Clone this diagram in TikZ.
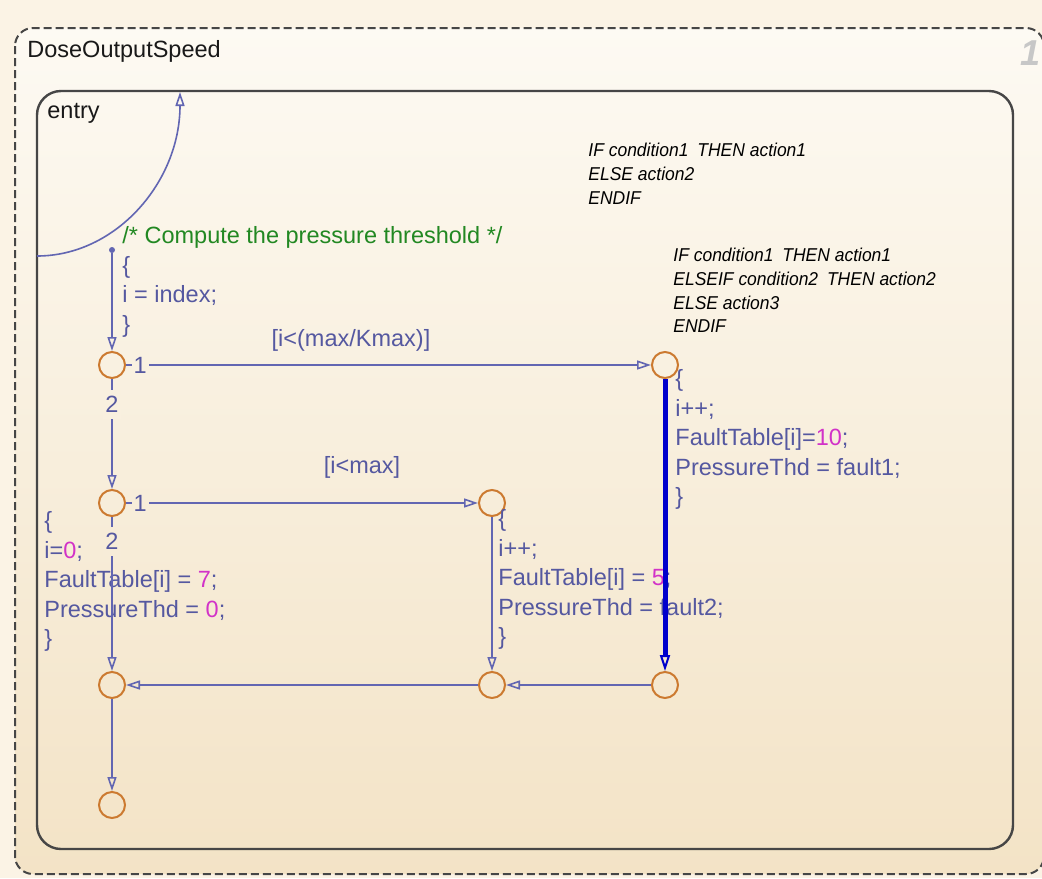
\documentclass[tikz,border=0pt]{standalone}
\usepackage{fontspec}
\setmainfont{Liberation Sans}
\newfontfamily\notefont[FakeStretch=0.94]{Liberation Sans}
\usetikzlibrary{arrows.meta}

\definecolor{sfline}{RGB}{98,102,178}
\definecolor{sftext}{RGB}{85,88,160}
\definecolor{sfjunc}{RGB}{204,122,48}
\definecolor{sfgreen}{RGB}{34,136,34}
\definecolor{sfnum}{RGB}{210,50,200}
\definecolor{sfthick}{RGB}{0,0,204}
\definecolor{sftop}{RGB}{253,250,243}
\definecolor{sfbot}{RGB}{243,227,198}
\definecolor{sfout}{RGB}{251,243,229}
\definecolor{sfframe}{RGB}{70,70,70}
\colorlet{bgA}{sfbot!40!sftop}
\colorlet{bgB}{sfbot!44!sftop}
\colorlet{bgC}{sfbot!56!sftop}
\colorlet{bgD}{sfbot!61!sftop}

\newcommand\codesize{\fontsize{11.75}{14.8}\selectfont}
\newcommand\notesize{\fontsize{9.3}{11.8}\selectfont}

\begin{document}
\begin{tikzpicture}[x=0.5pt,y=-0.5pt,
    junc/.style={circle,draw=sfjunc,line width=1pt,minimum size=13pt,inner sep=0pt},
    trans/.style={draw=sfline,line width=0.8pt,-{Triangle[open,length=7pt,width=4.5pt]}},
    code/.style={text=sftext,font=\codesize,align=left,anchor=north west,inner sep=0pt},
    note/.style={text=black,font=\notefont\itshape\notesize,align=left,anchor=north west,inner sep=0pt},
    num/.style={text=sftext,font=\codesize,inner xsep=1pt,inner ysep=3pt},
    title/.style={text=black!90,font=\codesize,anchor=base west,inner sep=0pt}
  ]
  \fill[sfout] (0,0) rectangle (1042,878);
  \useasboundingbox (0,0) rectangle (1042,878);
  \shade[top color=sftop,bottom color=sfbot,rounded corners=9pt] (15,28) rectangle (1044,874);
  \draw[sfframe,line width=1pt,dash pattern=on 4pt off 2pt,rounded corners=9pt] (15,28) rectangle (1044,874);
  \draw[sfframe,line width=1.2pt,rounded corners=12pt] (37,91) rectangle (1013,849);

  \node[title] (chartname) at (27,57) {DoseOutputSpeed};
  \node[anchor=base east,inner sep=0pt,text=black!22,font=\bfseries\itshape\fontsize{18}{20}\selectfont] (chartnum) at (1041,65) {1};
  \node[title] (entrylbl) at (47,118) {entry};

  \node[note] (note1) at (588,143) {IF condition1\hspace{2pt} THEN action1\\ELSE action2\\ENDIF};
  \node[note] (note2) at (673,248) {IF condition1\hspace{2pt} THEN action1\\ELSEIF condition2\hspace{2pt} THEN action2\\ELSE action3\\ENDIF};

  \node[junc] (J1) at (112,365) {};
  \node[junc] (J2) at (665,365) {};
  \node[junc] (J3) at (112,503) {};
  \node[junc] (J4) at (492,503) {};
  \node[junc] (J5) at (112,685) {};
  \node[junc] (J6) at (492,685) {};
  \node[junc] (J7) at (665,685) {};
  \node[junc] (J8) at (112,805) {};

  \node[code] (initact) at (122,226) {\textcolor{sfgreen}{/* Compute the pressure threshold */}\\\{\\i = index;\\\}};
  \node[code] (act1) at (675,369) {\{\\i++;\\FaultTable[i]=\textcolor{sfnum}{10};\\PressureThd = fault1;\\\}};
  \node[code] (act2) at (498,509) {\{\\i++;\\FaultTable[i] = \textcolor{sfnum}{5};\\PressureThd = fault2;\\\}};
  \node[code] (act3) at (44,511) {\{\\i=\textcolor{sfnum}{0};\\FaultTable[i] = \textcolor{sfnum}{7};\\PressureThd = \textcolor{sfnum}{0};\\\}};
  \node[text=sftext,font=\codesize] (guard1) at (351,340) {[i<(max/Kmax)]};
  \node[text=sftext,font=\codesize] (guard2) at (362,467) {[i<max]};

  \coordinate (arcS) at (37,256);
  \coordinate (arcE) at (180,92);
  \draw[trans] (arcS) .. controls (116,256) and (180,182) .. (arcE);
  \node[circle,fill=sfline,inner sep=0pt,minimum size=3pt] (dflt) at (112,250) {};
  \draw[trans] (dflt) -- (J1);
  \draw[trans] (J1) -- node[num,pos=0.027,fill=bgA] {1} (J2);
  \draw[trans] (J1) -- node[num,pos=0.23,fill=bgB] {2} (J3);
  \draw[trans,line width=2.5pt,draw=sfthick,-{Triangle[open,length=8pt,width=5pt,line width=1pt]}] (J2) -- (J7);
  \draw[trans] (J3) -- node[num,pos=0.04,fill=bgC] {1} (J4);
  \draw[trans] (J3) -- node[num,pos=0.16,fill=bgD] {2} (J5);
  \draw[trans] (J4) -- (J6);
  \draw[trans] (J7) -- (J6);
  \draw[trans] (J6) -- (J5);
  \draw[trans] (J5) -- (J8);
\end{tikzpicture}
\end{document}
